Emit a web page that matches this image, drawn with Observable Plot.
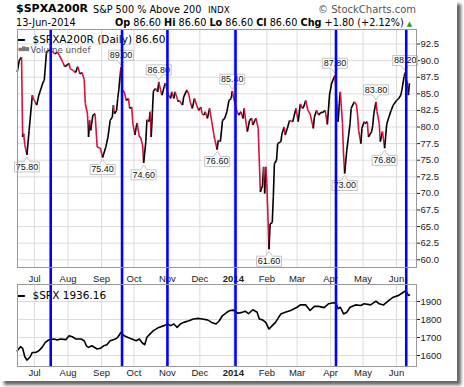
<!DOCTYPE html>
<html><head><meta charset="utf-8">
<script src="https://cdn.jsdelivr.net/npm/d3@7"></script>
<script src="https://cdn.jsdelivr.net/npm/@observablehq/plot@0.6"></script>
<style>
html,body{margin:0;padding:0;background:#fff;width:464px;height:387px;overflow:hidden}
#wrap{position:absolute;left:0;top:0;width:457px;height:381px;background:#fff;box-shadow:4px 4px 3px rgba(0,0,0,0.6)}
.t{position:absolute;white-space:pre;line-height:1;font-family:"DejaVu Sans",sans-serif;color:#000}
#main,#spx{position:absolute;left:0}
#main{top:0}
#spx{top:268px}
g[aria-label="legend"] text{letter-spacing:0.5px}
</style></head><body>
<div id="wrap">
<div id="main"></div>
<div id="spx"></div>
<div class="t" style="left:16px;top:3.4px;font-size:11px;font-weight:bold">$SPXA200R</div>
<div class="t" style="left:93px;top:4.8px;font-size:9.7px">S&amp;P 500 % Above 200</div>
<div class="t" style="left:208px;top:5.6px;font-size:8.7px">INDX</div>
<div class="t" style="left:318px;top:5px;font-size:10px;color:#555">© StockCharts.com</div>
<div class="t" style="left:16px;top:18.3px;font-size:9.7px">13-Jun-2014</div>
<div class="t" style="left:115px;top:18.3px;font-size:9.7px"><b>Op</b> 86.60 <b>Hi</b> 86.60 <b>Lo</b> 86.60 <b>Cl</b> 86.60 <b>Chg</b> +1.80 (+2.12%) <span style="color:#2a9a2a;font-size:7px">▲</span></div>
</div>
<script>
// ---- data ----
const breadthDates = ["2013-06-15","2013-06-17","2013-06-19","2013-06-20","2013-06-21","2013-06-22","2013-06-24","2013-06-26","2013-06-29","2013-06-30",
"2013-07-03","2013-07-05","2013-07-09","2013-07-10","2013-07-12","2013-07-13","2013-07-16","2013-07-18","2013-07-20","2013-07-22","2013-07-24","2013-07-27","2013-07-29","2013-07-31",
"2013-08-02","2013-08-03","2013-08-06","2013-08-08","2013-08-10","2013-08-12","2013-08-14","2013-08-16","2013-08-17","2013-08-19","2013-08-20","2013-08-21","2013-08-22","2013-08-24","2013-08-26","2013-08-28","2013-08-31",
"2013-09-02","2013-09-05","2013-09-07","2013-09-09","2013-09-11","2013-09-12","2013-09-13","2013-09-15","2013-09-16","2013-09-17","2013-09-19","2013-09-20","2013-09-22","2013-09-24","2013-09-26","2013-09-27","2013-09-29","2013-09-30",
"2013-10-02","2013-10-03","2013-10-04","2013-10-06","2013-10-07","2013-10-09","2013-10-10","2013-10-12","2013-10-13","2013-10-15","2013-10-16","2013-10-17","2013-10-19","2013-10-21","2013-10-23","2013-10-24","2013-10-26","2013-10-27","2013-10-29","2013-10-30",
"2013-11-02","2013-11-04","2013-11-05","2013-11-07","2013-11-08","2013-11-11","2013-11-12","2013-11-15","2013-11-16","2013-11-19","2013-11-21","2013-11-22","2013-11-24","2013-11-26","2013-11-28","2013-11-30",
"2013-12-02","2013-12-03","2013-12-05","2013-12-06","2013-12-08","2013-12-10","2013-12-12","2013-12-14","2013-12-15","2013-12-17","2013-12-18","2013-12-20","2013-12-22","2013-12-24","2013-12-26","2013-12-28","2013-12-30","2013-12-31",
"2014-01-04","2014-01-06","2014-01-08","2014-01-10","2014-01-11","2014-01-13","2014-01-14","2014-01-16","2014-01-18","2014-01-19","2014-01-21","2014-01-22","2014-01-24","2014-01-26","2014-01-28","2014-01-29","2014-01-30","2014-01-31",
"2014-02-01","2014-02-03","2014-02-04","2014-02-06","2014-02-07","2014-02-08","2014-02-10","2014-02-11","2014-02-14","2014-02-15","2014-02-17","2014-02-18","2014-02-20","2014-02-22","2014-02-25","2014-02-26","2014-02-28",
"2014-03-02","2014-03-04","2014-03-06","2014-03-07","2014-03-09","2014-03-11","2014-03-13","2014-03-16","2014-03-17","2014-03-19","2014-03-21","2014-03-23","2014-03-25","2014-03-27","2014-03-29","2014-03-31",
"2014-04-02","2014-04-05","2014-04-08","2014-04-09","2014-04-10","2014-04-12","2014-04-13","2014-04-14","2014-04-16","2014-04-19","2014-04-20","2014-04-23","2014-04-25","2014-04-26","2014-04-27","2014-04-29","2014-04-30",
"2014-05-02","2014-05-03","2014-05-05","2014-05-06","2014-05-09","2014-05-10","2014-05-11","2014-05-13","2014-05-14","2014-05-16","2014-05-17","2014-05-19","2014-05-21","2014-05-23","2014-05-25","2014-05-27","2014-05-29",
"2014-06-01","2014-06-03","2014-06-05","2014-06-06","2014-06-08","2014-06-09","2014-06-10","2014-06-11","2014-06-12","2014-06-13"];
const breadthValues = [88.3,90.1,90.5,78.5,79.0,77.3,75.8,79.5,84.8,84.3,
83.3,84.8,86.8,87.0,91.1,91.5,91.6,91.3,91.0,91.3,90.8,89.8,89.1,89.3,
89.6,88.8,88.5,88.2,89.1,88.0,88.2,87.1,83.5,82.0,78.5,81.0,79.5,81.8,82.0,77.0,76.8,
75.4,77.0,78.5,81.0,81.5,83.3,82.0,82.5,84.3,85.6,89.0,85.6,85.3,84.0,84.3,82.8,83.0,80.5,
78.8,79.9,80.6,78.5,78.5,77.3,74.6,77.8,81.1,80.8,82.3,78.5,85.4,85.8,85.3,86.8,85.3,84.8,86.1,86.6,
84.8,84.3,85.3,84.3,85.3,83.8,84.0,83.3,84.5,85.6,84.8,83.8,82.8,84.3,83.3,82.5,
83.0,82.0,81.8,82.3,81.3,82.8,80.8,78.8,78.0,76.6,78.0,77.8,81.0,81.3,82.3,84.0,84.3,85.4,
82.5,81.8,82.3,81.3,82.8,80.3,79.3,81.0,81.3,80.3,81.0,81.3,79.8,70.2,71.2,74.0,70.0,74.0,
71.5,61.6,65.4,65.6,69.5,74.5,75.0,77.5,77.8,79.0,80.0,78.8,79.8,81.0,80.8,81.5,82.8,
80.8,83.5,82.8,83.0,84.0,82.5,82.0,79.8,81.5,82.5,81.8,82.2,82.2,82.5,80.4,84.8,
86.6,87.8,80.8,83.5,85.3,80.5,75.8,73.0,76.5,80.5,82.8,83.8,83.3,81.8,79.5,77.5,79.8,
80.8,80.5,80.8,78.5,79.3,80.2,82.0,83.8,82.3,80.5,77.8,79.3,76.8,80.5,81.5,82.5,83.3,
84.0,84.3,84.8,85.6,87.6,88.2,87.1,86.8,84.8,86.6];

const peakDates = ["2013-09-19","2013-10-24","2013-12-31","2014-04-05","2014-05-13","2014-06-09"];
const peakValues = [89.0,86.8,85.4,87.8,83.8,88.2];
const troughDates = ["2013-06-24","2013-09-02","2013-10-10","2013-12-17","2014-02-03","2014-04-14","2014-05-21"];
const troughValues = [75.8,75.4,74.6,76.6,61.6,73.0,76.8];

const spxDates = ["2013-06-15","2013-06-18","2013-06-20","2013-06-22","2013-06-24","2013-06-27","2013-06-29","2013-07-02","2013-07-05","2013-07-08","2013-07-11","2013-07-14","2013-07-19","2013-07-22","2013-07-25","2013-07-30",
"2013-08-02","2013-08-05","2013-08-08","2013-08-13","2013-08-16","2013-08-18","2013-08-20","2013-08-23","2013-08-28","2013-08-31",
"2013-09-03","2013-09-06","2013-09-09","2013-09-14","2013-09-16","2013-09-19","2013-09-22","2013-09-25","2013-09-29",
"2013-10-03","2013-10-06","2013-10-09","2013-10-11","2013-10-13","2013-10-16","2013-10-19","2013-10-24","2013-10-29",
"2013-11-01","2013-11-04","2013-11-07","2013-11-10","2013-11-13","2013-11-16","2013-11-21","2013-11-25","2013-11-30",
"2013-12-03","2013-12-08","2013-12-12","2013-12-16","2013-12-19","2013-12-22","2013-12-26","2013-12-29",
"2014-01-01","2014-01-05","2014-01-08","2014-01-12","2014-01-15","2014-01-19","2014-01-23","2014-01-25","2014-01-28","2014-01-31",
"2014-02-03","2014-02-06","2014-02-09","2014-02-14","2014-02-18","2014-02-23",
"2014-03-01","2014-03-04","2014-03-09","2014-03-13","2014-03-17","2014-03-21","2014-03-26","2014-03-30",
"2014-04-04","2014-04-06","2014-04-08","2014-04-10","2014-04-13","2014-04-16","2014-04-19","2014-04-24","2014-04-29",
"2014-05-02","2014-05-08","2014-05-13","2014-05-16","2014-05-20","2014-05-25","2014-05-29",
"2014-06-03","2014-06-06","2014-06-09","2014-06-10","2014-06-11","2014-06-12","2014-06-13"];
const spxValues = [1626,1649,1640,1593,1574,1593,1617,1617,1626,1645,1673,1686,1692,1686,1692,1688,
1710,1704,1692,1692,1682,1654,1645,1654,1636,1640,
1654,1660,1682,1692,1701,1728,1710,1701,1692,
1682,1692,1668,1660,1701,1720,1738,1756,1766,
1775,1766,1775,1756,1775,1784,1793,1803,1806,
1803,1798,1784,1775,1793,1822,1840,1850,
1852,1835,1838,1846,1832,1854,1840,1803,1798,1784,
1747,1766,1784,1831,1840,1850,
1868,1881,1881,1850,1873,1873,1866,1887,
1893,1890,1860,1868,1831,1840,1868,1881,1878,
1887,1881,1902,1887,1881,1906,1924,
1934,1946,1958,1952,1945,1934,1936.16];

const markerDates = ["2013-07-16","2013-09-20","2013-11-01","2014-01-03","2014-04-06","2014-06-10"];
const monthTicks = ["2013-07-01","2013-08-01","2013-09-01","2013-10-01","2013-11-01","2013-12-01","2014-01-01","2014-02-01","2014-03-01","2014-04-01","2014-05-01","2014-06-01"];
const monthLabels = ["Jul","Aug","Sep","Oct","Nov","Dec","2014","Feb","Mar","Apr","May","Jun"];
const breadthTicks = [60,62.5,65,67.5,70,72.5,75,77.5,80,82.5,85,87.5,90,92.5];
const spxTicks = [1600,1700,1800,1900];

// ---- build ----
const parse = d3.utcParse("%Y-%m-%d");
const br = breadthDates.map((d, i) => ({date: parse(d), value: breadthValues[i]}));
const segs = br.slice(1).map((d, i) => ({x1: br[i].date, y1: br[i].value, x2: d.date, y2: d.value, color: d.value >= br[i].value ? "#000000" : "#d4143c"}));
const peaks = peakDates.map((d, i) => ({date: parse(d), value: peakValues[i]}));
const troughs = troughDates.map((d, i) => ({date: parse(d), value: troughValues[i]}));
const spx = spxDates.map((d, i) => ({date: parse(d), value: spxValues[i]}));
const markers = markerDates.map(parse);
const ticksX = monthTicks.map(parse);
const labelOf = new Map(ticksX.map((t, i) => [+t, monthLabels[i]]));
const plainTicks = ticksX.filter(t => t.getUTCMonth() !== 0);
const yearTicks = ticksX.filter(t => t.getUTCMonth() === 0);
const xDomain = [new Date(Date.UTC(2013, 5, 15, 6)), new Date(Date.UTC(2014, 5, 19, 12))];

const calloutAbove = {draw(ctx) {
  ctx.moveTo(-12.5, -17); ctx.lineTo(12.5, -17); ctx.lineTo(12.5, -7); ctx.lineTo(3.5, -7);
  ctx.lineTo(0, -2); ctx.lineTo(-3.5, -7); ctx.lineTo(-12.5, -7); ctx.closePath();
}};
const calloutBelow = {draw(ctx) {
  ctx.moveTo(-12.5, 17); ctx.lineTo(12.5, 17); ctx.lineTo(12.5, 7); ctx.lineTo(3.5, 7);
  ctx.lineTo(0, 2); ctx.lineTo(-3.5, 7); ctx.lineTo(-12.5, 7); ctx.closePath();
}};

const axisFont = "Liberation Sans, Arial, sans-serif";
const common = {
  width: 457, marginLeft: 17, marginRight: 41,
  style: {fontFamily: axisFont, fontSize: "9px", color: "#222", background: "transparent", overflow: "visible"}
};

const mainPlot = Plot.plot({
  ...common, height: 268, marginTop: 29, marginBottom: 1,
  x: {type: "utc", domain: xDomain, axis: null},
  y: {domain: [58.84, 94.69], axis: null},
  color: {type: "identity"},
  marks: [
    Plot.gridX(ticksX, {stroke: "#dcdcdc", strokeOpacity: 1}),
    Plot.gridY(breadthTicks, {stroke: "#dcdcdc", strokeOpacity: 1}),
    Plot.axisY(breadthTicks, {anchor: "right", label: null, tickSize: 3, tickPadding: 1, tickFormat: d => d.toFixed(1), fontSize: 9.5}),
    Plot.link(segs, {x1: "x1", y1: "y1", x2: "x2", y2: "y2", stroke: "color", strokeWidth: 1.6}),
    Plot.dot(peaks, {x: "date", y: "value", symbol: calloutAbove, fill: "white", stroke: "#c4c4c4", strokeWidth: 1}),
    Plot.dot(troughs, {x: "date", y: "value", symbol: calloutBelow, fill: "white", stroke: "#c4c4c4", strokeWidth: 1}),
    Plot.text(peaks, {x: "date", y: "value", text: d => d.value.toFixed(2), dy: -12, fontSize: 9, fill: "#111"}),
    Plot.text(troughs, {x: "date", y: "value", text: d => d.value.toFixed(2), dy: 12, fontSize: 9, fill: "#111"}),
    Plot.text(["━"], {frameAnchor: "top-left", dx: 0, dy: 6, textAnchor: "start", fontSize: 12, fontFamily: "DejaVu Sans", fill: "#000"}),
    Plot.text(["$SPXA200R (Daily) 86.60"], {frameAnchor: "top-left", dx: 15, dy: 6, textAnchor: "start", fontSize: 10.5, fontFamily: "DejaVu Sans", fill: "#000", ariaLabel: "legend"}),
    Plot.text(["▅▇▆"], {frameAnchor: "top-left", dx: 1, dy: 17, textAnchor: "start", fontSize: 4.5, fontFamily: "DejaVu Sans", fill: "#777"}),
    Plot.text(["Volume undef"], {frameAnchor: "top-left", dx: 13, dy: 17, textAnchor: "start", fontSize: 8.7, fontFamily: "DejaVu Sans", fill: "#555"}),
    Plot.ruleX(markers, {stroke: "#0000ff", strokeWidth: 2.6, insetBottom: -1}),
    Plot.frame({stroke: "#9a9a9a"})
  ]
});
document.getElementById("main").append(mainPlot);

const spxPlot = Plot.plot({
  ...common, height: 113, marginTop: 16, marginBottom: 15,
  x: {type: "utc", domain: xDomain, axis: null},
  y: {domain: [1538.9, 1994.4], axis: null},
  marks: [
    Plot.gridX(ticksX, {stroke: "#dcdcdc", strokeOpacity: 1}),
    Plot.gridY(spxTicks, {stroke: "#dcdcdc", strokeOpacity: 1}),
    Plot.axisY(spxTicks, {anchor: "right", label: null, tickSize: 3, tickPadding: 1, tickFormat: d => String(d), fontSize: 9.5}),
    Plot.axisX(plainTicks, {anchor: "top", label: null, tickSize: 0, tickPadding: 3, tickFormat: d => labelOf.get(+d), fontSize: 9.5}),
    Plot.axisX(yearTicks, {anchor: "top", label: null, tickSize: 0, tickPadding: 3, tickFormat: d => labelOf.get(+d), fontSize: 9.5, fontWeight: "bold"}),
    Plot.axisX(plainTicks, {anchor: "bottom", label: null, tickSize: 0, tickPadding: 3, tickFormat: d => labelOf.get(+d), fontSize: 9.5}),
    Plot.axisX(yearTicks, {anchor: "bottom", label: null, tickSize: 0, tickPadding: 3, tickFormat: d => labelOf.get(+d), fontSize: 9.5, fontWeight: "bold"}),
    Plot.line(spx, {x: "date", y: "value", stroke: "#000", strokeWidth: 1.6}),
    Plot.text(["━"], {frameAnchor: "top-left", dx: 0, dy: 7, textAnchor: "start", fontSize: 12, fontFamily: "DejaVu Sans", fill: "#000"}),
    Plot.text(["$SPX 1936.16"], {frameAnchor: "top-left", dx: 15, dy: 7, textAnchor: "start", fontSize: 10.5, fontFamily: "DejaVu Sans", fill: "#000", ariaLabel: "legend"}),
    Plot.ruleX(markers, {stroke: "#0000ff", strokeWidth: 2.6, insetTop: -16}),
    Plot.frame({stroke: "#9a9a9a"})
  ]
});
document.getElementById("spx").append(spxPlot);
</script>
</body></html>
